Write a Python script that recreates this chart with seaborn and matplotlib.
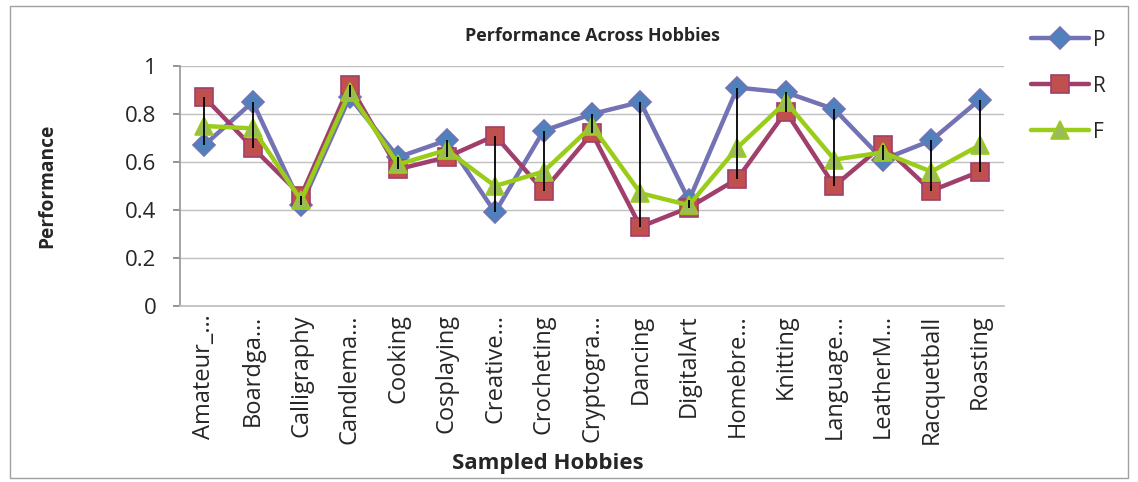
import matplotlib
matplotlib.use("Agg")
import matplotlib.pyplot as plt
import seaborn as sns
import pandas as pd
import numpy as np
from matplotlib.patches import Rectangle

hobbies = ["Amateur_…", "Boardga…", "Calligraphy", "Candlema…", "Cooking", "Cosplaying",
           "Creative…", "Crocheting", "Cryptogra…", "Dancing", "DigitalArt", "Homebre…",
           "Knitting", "Language…", "LeatherM…", "Racquetball", "Roasting"]
P = [0.67, 0.85, 0.42, 0.87, 0.62, 0.69, 0.39, 0.73, 0.80, 0.85, 0.44, 0.91, 0.89, 0.82, 0.61, 0.69, 0.86]
R = [0.87, 0.66, 0.46, 0.92, 0.57, 0.62, 0.71, 0.48, 0.72, 0.33, 0.41, 0.53, 0.81, 0.50, 0.67, 0.48, 0.56]
F = [0.75, 0.74, 0.44, 0.89, 0.59, 0.65, 0.50, 0.56, 0.75, 0.47, 0.42, 0.66, 0.85, 0.61, 0.64, 0.56, 0.67]

sns.set_theme(style="white")
plt.rcParams['font.family'] = ['Open Sans', 'DejaVu Sans']

fig = plt.figure(figsize=(11.38, 4.82), dpi=100)
ax = fig.add_axes([180/1138, 1-306/482, (1004-180)/1138, (306-66)/482])

idx = np.arange(len(hobbies))
series = [
    ("P", P, "#7272B4", "#4F81BD", "D", 11),
    ("R", R, "#A03F6C", "#C0504D", "s", 13),
    ("F", F, "#9ACD1A", "#9BBB59", "^", 13),
]
for name, vals, lc, mc, mk, ms in series:
    df = pd.DataFrame({"x": idx, "y": vals})
    sns.lineplot(data=df, x="x", y="y", ax=ax, color=lc, linewidth=3.2,
                 marker=mk, markersize=ms, markerfacecolor=mc,
                 markeredgecolor=lc, markeredgewidth=1.2, label=name)

# high-low lines
arr = np.array([P, R, F])
ax.vlines(idx, arr.min(axis=0), arr.max(axis=0), color="black", linewidth=1.3, zorder=10)

ax.set_xlim(-0.5, 16.5)
ax.set_ylim(0, 1)
ax.set_yticks([0, 0.2, 0.4, 0.6, 0.8, 1.0])
ax.set_yticklabels(["0", "0.2", "0.4", "0.6", "0.8", "1"], fontsize=16)
ax.set_xticks(idx)
ax.set_xticklabels(hobbies, rotation=90, fontsize=17)
ax.tick_params(axis="x", length=0, pad=6)
ax.tick_params(axis="y", length=5, color="#888888", left=True, pad=12)
ax.yaxis.grid(True, color="#BFBFBF", linewidth=1)
for s in ["top", "right"]:
    ax.spines[s].set_visible(False)
ax.spines["left"].set_color("#999999")
ax.spines["bottom"].set_color("#BFBFBF")

ax.set_title("Performance Across Hobbies", fontsize=12.9, fontweight="bold", pad=18)
ax.set_ylabel("")
fig.text(47/1138, 1-186/482, "Performance", fontsize=13.8, fontweight="bold",
         rotation=90, ha="center", va="center")
ax.set_xlabel("")
fig.text(548/1138, 1-463/482, "Sampled Hobbies", fontsize=16, fontweight="bold",
         ha="center", va="center")

leg = ax.legend(loc="upper left", bbox_to_anchor=(1.01, 1.23), frameon=False,
                fontsize=15, labelspacing=1.2, handlelength=2.8, handletextpad=0.2)

fig.add_artist(Rectangle((10/1138, 4/482), 1118/1138, 472/482, transform=fig.transFigure,
                         fill=False, edgecolor="#A0A0A0", linewidth=1))

fig.savefig("out.png", dpi=100)
